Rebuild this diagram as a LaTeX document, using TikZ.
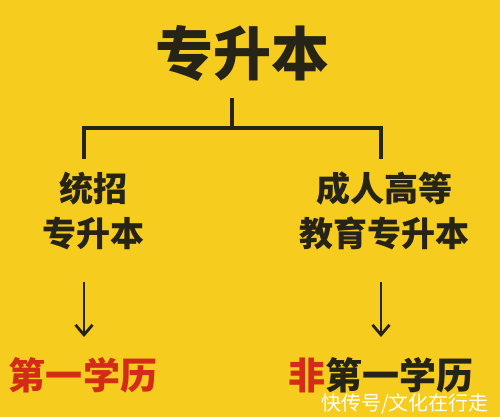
\documentclass[tikz,border=0pt]{standalone}
\usepackage{fontspec}
\newfontfamily\cjk{Noto Sans CJK SC}
\usetikzlibrary{arrows.meta}
\definecolor{bgyellow}{HTML}{F6CC1E}
\definecolor{ink}{HTML}{262416}
\definecolor{redtxt}{HTML}{D42A18}
\tikzset{
  txt/.style={inner sep=0pt, text=ink, font=\cjk\bfseries\fontsize{34pt}{45pt}\selectfont, align=center},
  conn/.style={line width=3.2pt, draw=ink},
  arr/.style={line width=2.8pt, draw=ink, -{Straight Barb[length=10pt,width=17pt,line width=2.8pt]}}
}
\begin{document}
\begin{tikzpicture}[x=1pt,y=-1pt]
\fill[bgyellow] (0,0) rectangle (500,417);
\useasboundingbox (0,0) rectangle (500,417);
\node[txt, font=\cjk\bfseries\fontsize{58pt}{60pt}\selectfont] (title) at (242,53) {专升本};
\coordinate (top) at (232,98);
\coordinate (mid) at (232,128);
\coordinate (ml) at (84,128);
\coordinate (mr) at (381,128);
\coordinate (dl) at (84,157);
\coordinate (dr) at (381,157);
\draw[conn] (top) -- (mid);
\draw[conn, line cap=rect] (dl) -- (ml) -- (mr) -- (dr);
\node[txt] (left) at (93,211) {统招\\专升本};
\node[txt] (right) at (384,211) {成人高等\\教育专升本};
\coordinate (al1) at (84,282);
\coordinate (al2) at (84,337);
\coordinate (ar1) at (381,282);
\coordinate (ar2) at (381,337);
\draw[arr] (al1) -- (al2);
\draw[arr] (ar1) -- (ar2);
\node[txt, text=redtxt, font=\cjk\bfseries\fontsize{37pt}{40pt}\selectfont] (b1) at (83,375) {第一学历};
\node[txt, font=\cjk\bfseries\fontsize{37pt}{40pt}\selectfont] (b2) at (381,375) {\textcolor{redtxt}{非}第一学历};
\node[inner sep=0pt, text=white, font=\cjk\fontsize{20pt}{22pt}\selectfont] (wm) at (405,404) {快传号/文化在行走};
\end{tikzpicture}
\end{document}
